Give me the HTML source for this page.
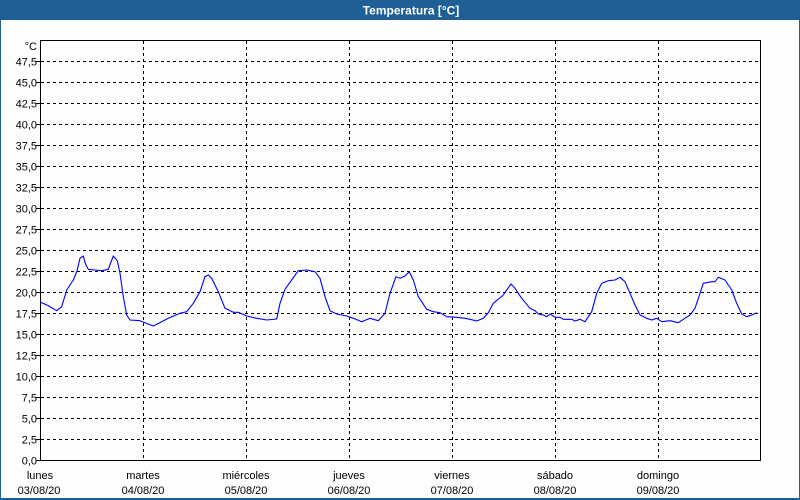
<!DOCTYPE html>
<html><head><meta charset="utf-8"><style>
html,body{margin:0;padding:0;width:800px;height:500px;overflow:hidden;background:#fcfdfc;}
svg{display:block}
text{font-family:"Liberation Sans","DejaVu Sans",sans-serif;}
</style></head><body>
<svg width="800" height="500" viewBox="0 0 800 500" xmlns="http://www.w3.org/2000/svg">
<rect x="0" y="0" width="800" height="500" fill="#1e6096"/>
<rect x="1" y="20" width="798" height="478" fill="#fcfdfc"/>
<text x="411" y="14.5" fill="#ffffff" font-size="12" font-weight="bold" text-anchor="middle">Temperatura [°C]</text>
<g stroke="#000" stroke-width="1" stroke-dasharray="3,3" fill="none">
<path d="M41 61.5H760M41 82.5H760M41 103.5H760M41 124.5H760M41 145.5H760M41 166.5H760M41 187.5H760M41 208.5H760M41 229.5H760M41 250.5H760M41 271.5H760M41 292.5H760M41 313.5H760M41 334.5H760M41 355.5H760M41 376.5H760M41 397.5H760M41 418.5H760M41 439.5H760"/>
<path d="M143.5 41V460M246.5 41V460M349.5 41V460M452.5 41V460M555.5 41V460M658.5 41V460"/>
</g>
<g stroke="#000" stroke-width="1" fill="none">
<path d="M40.5 40.5H760.5V460.5H40.5Z"/>
<path d="M36 61.5H40M36 82.5H40M36 103.5H40M36 124.5H40M36 145.5H40M36 166.5H40M36 187.5H40M36 208.5H40M36 229.5H40M36 250.5H40M36 271.5H40M36 292.5H40M36 313.5H40M36 334.5H40M36 355.5H40M36 376.5H40M36 397.5H40M36 418.5H40M36 439.5H40M36 460.5H40"/>
</g>
<g font-size="11" fill="#000" text-anchor="end">
<text x="37" y="50">°C</text>
<text x="37" y="65.5">47,5</text>
<text x="37" y="86.5">45,0</text>
<text x="37" y="107.5">42,5</text>
<text x="37" y="128.5">40,0</text>
<text x="37" y="149.5">37,5</text>
<text x="37" y="170.5">35,0</text>
<text x="37" y="191.5">32,5</text>
<text x="37" y="212.5">30,0</text>
<text x="37" y="233.5">27,5</text>
<text x="37" y="254.5">25,0</text>
<text x="37" y="275.5">22,5</text>
<text x="37" y="296.5">20,0</text>
<text x="37" y="317.5">17,5</text>
<text x="37" y="338.5">15,0</text>
<text x="37" y="359.5">12,5</text>
<text x="37" y="380.5">10,0</text>
<text x="37" y="401.5">7,5</text>
<text x="37" y="422.5">5,0</text>
<text x="37" y="443.5">2,5</text>
<text x="37" y="464.5">0,0</text>
</g>
<g font-size="11" fill="#000" text-anchor="middle">
<text x="40" y="479">lunes</text><text x="39" y="494">03/08/20</text>
<text x="143" y="479">martes</text><text x="143" y="494">04/08/20</text>
<text x="246" y="479">miércoles</text><text x="246" y="494">05/08/20</text>
<text x="349" y="479">jueves</text><text x="349" y="494">06/08/20</text>
<text x="452" y="479">viernes</text><text x="452" y="494">07/08/20</text>
<text x="555" y="479">sábado</text><text x="555" y="494">08/08/20</text>
<text x="658" y="479">domingo</text><text x="658" y="494">09/08/20</text>
</g>
<polyline fill="none" stroke="#0000ff" stroke-width="1.1" stroke-linejoin="round" points="
40,302 48,305.5 56.7,310.7 61.7,306.7 66.7,290 73.3,280 77,271 80,258.3 83.3,256 85.5,264 88.3,269.3 95,270 101.7,270.7 108.3,269.3 111,262 113.3,256 117.3,260.7 120,273.3 123.3,296.7 126.7,315 130,320 140,320.7 145,322.7 153.3,326 161.7,321.7 168.3,318.3
180,313.3 186.7,311.7 193.3,303.3 200,291.7 205,276.7 208.3,275 211.7,278.3 218.3,291.7 225,308.3 233.3,312.3 238.3,312.3 246.7,316 256.7,318.3 266.7,320 276.7,319 280,303.3 285,289.3 291.7,280 298.3,270.7 306.7,270 315,271.7 320,278.3 325,296.7 330,310.7 336.7,314 346.7,316 353.3,318.3 360,321
361.7,321.7 370,318.3 378.3,320.7 385,313.3 390,293.3 396,276.7 400,278.3 405,276 409.3,271.7 413.3,280 418.3,296.7 426.7,309.3 433.3,311.7 440,312.7 446.7,316.7 456.7,317.3 465,318.3 470,319.3 476.7,321 483.3,318.3 488.3,312.7 493.3,303.3 503.3,295 506.7,290 511,284 515,288.3 521.7,298.3 530,308.3 535,310.7 538.3,314 543.3,315 546.7,316.7 550,314 555,317.3 560,317.3
563.3,319.3 571.7,319.3 575,321 580,319.3 585,321.7 591.7,311.7 596.7,293.3 601.7,283.3 608.3,280.7 615,280 620,277.3 625,281.7 630,293.3 635,305 640,315 646.7,318.3 651.7,320 656.7,318.3 661.7,321.7 670,320.7 678.3,322.7 683.3,319.3 690,315 695,308.3 700,293.3 703.3,283.3 711.7,281.7 715,281.7 718.3,277.3 725,280 731.7,290 736.7,303.3 741.7,314 746.7,316.7 751.7,315 756.7,312.7"/>
</svg>
</body></html>
